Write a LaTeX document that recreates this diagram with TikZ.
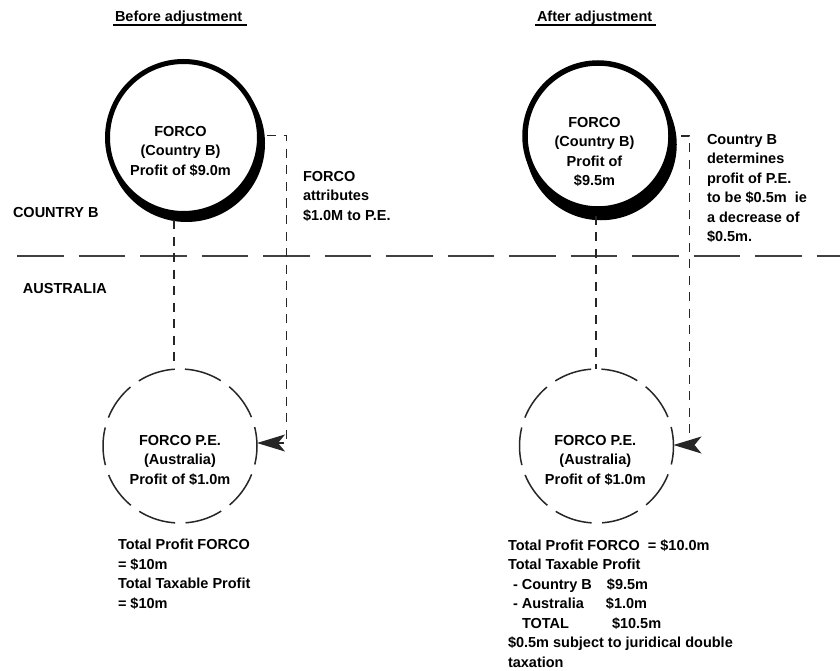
\documentclass[tikz,border=0pt]{standalone}
\usepackage{fontspec}
\setmainfont{Liberation Sans}
\usetikzlibrary{arrows.meta}
\begin{document}
\begin{tikzpicture}[x=1pt,y=-1pt,
  every node/.style={inner sep=0pt, outer sep=0pt, font=\bfseries\fontsize{14.5}{19.5}\selectfont, text=black},
  heading/.style={anchor=base west},
  lefttext/.style={anchor=north west, align=left, execute at begin node=\strut},
  ctext/.style={align=center},
  forco/.style={circle, draw=black, fill=white, line width=5pt, minimum size=152pt, outer sep=2.5pt},
  pe/.style={circle, draw=black!85, line width=1.5pt, minimum size=154pt, dash pattern=on 38pt off 10.4pt, dash phase=18.8pt},
  vdash/.style={draw=black!85, line width=1.3pt, dash pattern=on 9pt off 7.5pt},
  conn/.style={vdash, -{Stealth[length=28pt,width=17pt,inset=7pt]}},
  sep/.style={draw=black!75, line width=1.5pt, dash pattern=on 46.5pt off 15pt},
  uline/.style={draw=black, line width=2pt},
  shadowfill/.style={fill=black}
]
\useasboundingbox (0,0) rectangle (840,671);

% headings
\node[heading] (headA) at (115,22) {Before adjustment};
\node[heading] (headB) at (537,22) {After adjustment};
\draw[uline] ([xshift=-2pt,yshift=-3pt]headA.base west) -- ++(134,0);
\draw[uline] ([xshift=-2pt,yshift=-3pt]headB.base west) -- ++(121,0);

% region labels and separator
\node[heading] (cb) at (13,218) {COUNTRY B};
\node[heading] (au) at (23,293) {AUSTRALIA};
\draw[sep] (17,256) -- (840,256);

% FORCO circles with shadow
\fill[shadowfill] (186.5,143.5) circle[radius=78.5pt];
\node[forco] (forcoA) at (183.5,137.5) {};
\fill[shadowfill] (601,144.5) circle[radius=75.75pt];
\node[forco, line width=5.5pt, minimum size=146pt, outer sep=2.75pt] (forcoB) at (598,136) {};

\node[ctext] (forcoAtxt) at (180.5,151) {FORCO\\(Country B)\\Profit of \$9.0m};
\node[ctext] (forcoBtxt) at (594.5,152) {FORCO\\(Country B)\\Profit of\\\$9.5m};

% PE circles
\node[pe] (peA) at (180,446) {};
\node[pe] (peB) at (596.5,446) {};
\node[ctext] (peAtxt) at (180,460) {FORCO P.E.\\(Australia)\\Profit of \$1.0m};
\node[ctext] (peBtxt) at (595.3,460) {FORCO P.E.\\(Australia)\\Profit of \$1.0m};

% vertical links
\draw[vdash] ([xshift=-9.5pt,yshift=-4pt]forcoA.south) -- ([xshift=-6pt]peA.north);
\draw[vdash] ([xshift=-2pt,yshift=-4pt]forcoB.south) -- ([xshift=-0.5pt]peB.north);

% attribution connectors
\draw[conn] ([xshift=5pt,yshift=2pt]forcoA.east) -- ++(19.5,0) |- ([yshift=3pt]peA.east);
\draw[conn] ([xshift=7pt,yshift=0pt]forcoB.east) -- ++(9,0) |- ([yshift=1pt]peB.east);

% side texts
\node[lefttext] (attr) at (303,171.3) {FORCO\\attributes\\\$1.0M to P.E.};
\node[lefttext] (det) at (707,134.3) {Country B\\determines\\profit of P.E.\\to be \$0.5m\ \ ie\\a decrease of\\\$0.5m.};

% totals
\node[lefttext] (totA) at (118,539.3) {Total Profit FORCO\\= \$10m\\Total Taxable Profit\\= \$10m};
\node[lefttext] (totB) at (508,539.3) {Total Profit FORCO\ \ = \$10.0m\\Total Taxable Profit\\\makebox[99pt][l]{\hspace*{5pt}- Country B}\$9.5m\\\makebox[98pt][l]{\hspace*{5pt}- Australia}\$1.0m\\\makebox[104pt][l]{\hspace*{14pt}TOTAL}\$10.5m\\\$0.5m subject to juridical double\\taxation};
\end{tikzpicture}
\end{document}
